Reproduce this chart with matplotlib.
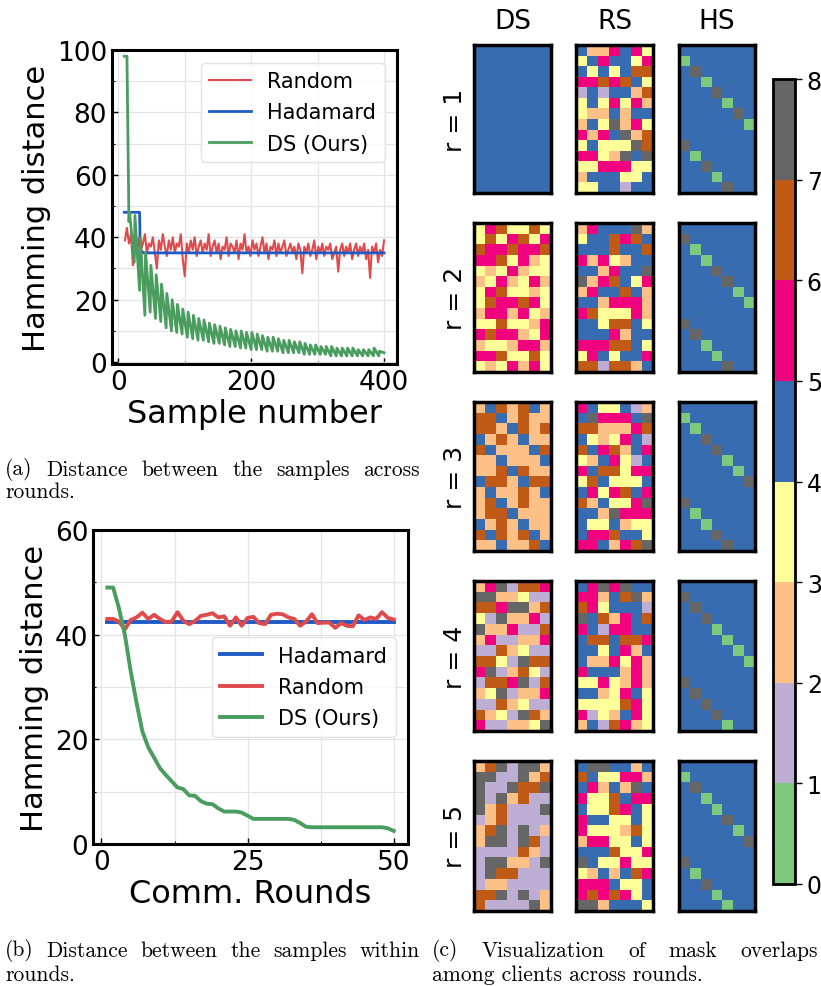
import numpy as np
import matplotlib
matplotlib.use("Agg")
import matplotlib.pyplot as plt
from matplotlib.colors import ListedColormap, BoundaryNorm
from matplotlib.cm import ScalarMappable
from matplotlib.ticker import MultipleLocator

# ---------------- data ----------------
# (a) distance between samples across rounds
rand_x = list(range(10, 401, 3))
rand_y = [39, 43, 38, 41, 31, 38, 34, 40, 36, 38,
          41, 35, 38, 37, 40, 35, 30, 39, 36, 41,
          37, 34, 39, 36, 40, 35, 38, 37, 41, 33,
          27.5, 38, 35, 39, 36, 40, 34, 37, 39, 35,
          38, 36, 41, 34, 37, 39, 35, 38, 33, 37,
          36, 40, 34, 38, 37, 35, 39, 33, 38, 36,
          41, 35, 37, 34, 39, 36, 38, 34, 37, 40,
          35, 38, 33, 37, 36, 39, 34, 38, 35, 37,
          39, 34, 36, 38, 35, 37, 33, 38, 36, 28.5,
          37, 35, 38, 34, 36, 39, 33, 37, 35, 38,
          34, 37, 36, 38, 33, 35, 37, 29, 36, 38,
          34, 37, 35, 38, 33, 36, 38, 34, 37, 35,
          38, 33, 36, 27, 37, 35, 38, 32, 36, 34,
          39]
had_x = [9, 32, 33, 38, 400]
had_y = [48, 48, 36, 35, 35]
ds_round_start = list(range(9, 400, 8))
ds_round_high = [98, 48, 47, 40, 35, 31, 28, 25, 22, 20, 18.5, 17, 16, 15, 14,
                 13.5, 12.5, 12, 11.5, 11, 10.5, 10, 10, 9.5, 9.5, 9, 8.5, 8, 8,
                 7.5, 7, 7, 6.5, 6.5, 6, 5.5, 5.5, 5, 5, 5, 4.5, 4.5, 4.5, 4.5,
                 4, 4, 4, 4.5, 3.5]
ds_round_low = [45, 32, 23, 15, 16, 14, 13, 11, 10, 9.5, 9, 8, 7.5, 7, 7, 6.5,
                6, 6, 5.5, 5, 5, 4.5, 4.5, 4, 4, 4, 3.5, 3.5, 3.5, 3, 3, 3, 3,
                2.5, 2.5, 2.5, 2.5, 2.5, 2, 2, 2, 2, 2, 2, 2, 2, 2, 2, 3]

# (b) distance between samples within rounds
rounds = list(range(1, 51))
had_b = [42.5] * 50
rand_b = [43, 43, 42.5, 41, 42.8, 43.3, 44.2, 43, 43.8, 43,
          42.4, 42.5, 44.3, 42.7, 42, 42.6, 43.6, 43.8, 44.1, 43.3,
          43.5, 41.7, 43.3, 41.7, 43.2, 43.4, 42.2, 42, 43.8, 44,
          43.9, 43.3, 43, 41.7, 42.5, 43.9, 42.2, 42.3, 42.3, 41.3,
          42.2, 41.7, 41.6, 43.7, 42.8, 43.3, 43, 44.3, 43.2, 42.9]
ds_b = [49, 49, 45, 40, 33, 27, 21.5, 18.5, 16.5, 14.5,
        13.2, 12, 10.8, 10.5, 9.3, 9.2, 8.2, 7.7, 7.6, 6.8,
        6.2, 6.2, 6.2, 6.0, 5.4, 4.8, 4.8, 4.8, 4.8, 4.8,
        4.8, 4.8, 4.6, 4.0, 3.3, 3.2, 3.2, 3.2, 3.2, 3.2,
        3.2, 3.2, 3.2, 3.2, 3.2, 3.2, 3.2, 3.2, 3.0, 2.5]

# (c) mask overlap grids (values 0..7)
ds_grids = [
    ["4444444"] * 14,
    ["3563363", "3635635", "6556556", "5563523", "3235233", "2352352", "3563323",
     "3655653", "2552532", "3363325", "5655235", "2332552", "5563363", "3235253"],
    ["2462642", "6642622", "6624626", "4262422", "6422246", "2242224", "2264622",
     "4662466", "2422624", "2642622", "2664222", "4262422", "6462642", "2242264"],
    ["2571665", "7722311", "6657726", "3172251", "7225116", "2511225", "1162311",
     "6631766", "5712631", "1665716", "2371225", "1162311", "6231762", "5112237"],
    ["2671772", "7711726", "7117667", "7172611", "7261117", "1261111", "2671712",
     "2771761", "1111621", "1772217", "1766111", "1221111", "6671712", "6111172"],
]
rs_grids = [
    ["4225453", "3454435", "4343466", "5565643", "1414426", "3435352", "3224244",
     "2437253", "5254726", "3433376", "5532747", "3355533", "2444334", "3344144"],
    ["2544472", "3446564", "4446446", "5253244", "4425447", "7256435", "2544642",
     "4425552", "5633352", "4436643", "4445244", "5556643", "3543445", "6616624"],
    ["5433412", "4755547", "6622256", "4323541", "6456245", "3245314", "5466355",
     "3643334", "4535645", "6243357", "4427555", "4334233", "4556443", "5542567"],
    ["4575744", "5524672", "6534441", "7462546", "5415544", "4664665", "4434524",
     "4225352", "5444252", "3353252", "4423543", "3333653", "5132453", "2416523"],
    ["4774424", "6433552", "4524274", "5336455", "4336543", "5443343", "5333263",
     "2553343", "4446335", "7433533", "3242465", "5554334", "5656534", "7724443"],
]
hs_grids = [
    ["4444444", "0444444", "4744444", "4404444", "4447444", "4444044", "4444474",
     "4444440", "4444444", "7444444", "4044444", "4474444", "4440444", "4444744"],
    ["4444444", "7444444", "4044444", "4404444", "4447444", "4444744", "4444404",
     "4444440", "4444444", "7444444", "4744444", "4404444", "4440444", "4444744"],
    ["4444444", "0444444", "4044444", "4474444", "4447444", "4444044", "4444404",
     "4444447", "4444444", "7444444", "4044444", "4404444", "4447444", "4444744"],
    ["4444444", "7444444", "4744444", "4474444", "4440444", "4444044", "4444404",
     "4444440", "4444444", "7444444", "4744444", "4474444", "4447444", "4444044"],
    ["4444444", "0444444", "4744444", "4404444", "4440444", "4444744", "4444404",
     "4444447", "4444444", "7444444", "4044444", "4474444", "4440444", "4444044"],
]
col_titles = ["DS", "RS", "HS"]
row_labels = ["r = 1", "r = 2", "r = 3", "r = 4", "r = 5"]
cbar_ticks = list(range(9))

# ---------------- style ----------------
RED = "#df4a4c"
BLUE = "#1f5bc6"
GREEN = "#4a9d5f"
accent = ['#7fc97f', '#beaed4', '#fdc086', '#ffff99',
          '#386cb0', '#f0027f', '#bf5b17', '#666666']
cmap = ListedColormap(accent)
norm = BoundaryNorm(list(range(9)), 8)

W, H = 821, 987
fig = plt.figure(figsize=(W / 100, H / 100), dpi=100)


def ax_px(x0, y0, x1, y1):
    return fig.add_axes([x0 / W, 1 - y1 / H, (x1 - x0) / W, (y1 - y0) / H])


def style_line_axes(ax):
    ax.set_axisbelow(True)
    ax.grid(True, which='both', color='#e4e4e4', lw=0.9)
    ax.tick_params(which='major', direction='in', labelsize=19, length=4, width=1)
    ax.tick_params(which='minor', direction='in', length=2.5, width=0.8)
    for s in ax.spines.values():
        s.set_linewidth(2.2)


# ---- (a)
ax1 = ax_px(112, 51, 397, 365)
ds_x, ds_y = [], []
for s, hi, lo in zip(ds_round_start, ds_round_high, ds_round_low):
    ds_x += [s, s + 7]
    ds_y += [hi, lo]
ds_x.insert(1, ds_round_start[0] + 4)
ds_y.insert(1, ds_round_high[0])
ax1.plot(rand_x, rand_y, color=RED, lw=1.5, label='Random')
ax1.plot(had_x, had_y, color=BLUE, lw=2.0, label='Hadamard')
ax1.plot(ds_x, ds_y, color=GREEN, lw=2.0, label='DS (Ours)')
ax1.set_xlim(-9.5, 419.5)
ax1.set_ylim(-0.6, 100)
ax1.set_xticks([0, 200, 400])
ax1.set_yticks([0, 20, 40, 60, 80, 100])
ax1.xaxis.set_minor_locator(MultipleLocator(100))
ax1.yaxis.set_minor_locator(MultipleLocator(10))
style_line_axes(ax1)
ax1.set_xlabel('Sample number', fontsize=23, labelpad=2)
ax1.set_ylabel('Hamming distance', fontsize=22, labelpad=4)
ax1.legend(loc='upper right', fontsize=15, framealpha=0.8, edgecolor='#dddddd',
           labelspacing=0.55, borderaxespad=0.6)

# ---- (b)
ax2 = ax_px(93, 531, 408, 845)
ax2.plot(rounds, had_b, color=BLUE, lw=2.8, label='Hadamard')
ax2.plot(rounds, rand_b, color=RED, lw=2.8, label='Random')
ax2.plot(rounds, ds_b, color=GREEN, lw=2.8, label='DS (Ours)')
ax2.set_xlim(-1.45, 52.45)
ax2.set_ylim(0, 60)
ax2.set_xticks([0, 25, 50])
ax2.set_yticks([0, 20, 40, 60])
ax2.xaxis.set_minor_locator(MultipleLocator(12.5))
ax2.yaxis.set_minor_locator(MultipleLocator(10))
style_line_axes(ax2)
ax2.set_xlabel('Comm. Rounds', fontsize=23, labelpad=2)
ax2.set_ylabel('Hamming distance', fontsize=22, labelpad=4)
ax2.legend(loc='center right', fontsize=15, framealpha=0.8, edgecolor='#dddddd',
           labelspacing=0.55, borderaxespad=0.6)

# ---- (c)
col_x = [(474, 551), (576, 653), (679, 755)]
row_y = [(46, 194), (224, 373), (403, 552), (582, 732), (762, 912)]
for i in range(5):
    for j, grids in enumerate([ds_grids, rs_grids, hs_grids]):
        arr = np.array([[int(c) for c in row] for row in grids[i]])
        ax = ax_px(col_x[j][0], row_y[i][0], col_x[j][1], row_y[i][1])
        ax.imshow(arr, cmap=cmap, norm=norm, aspect='auto', interpolation='nearest')
        ax.set_xticks([])
        ax.set_yticks([])
        for s in ax.spines.values():
            s.set_linewidth(2.5)
    yc = (row_y[i][0] + row_y[i][1]) / 2
    fig.text(455 / W, 1 - yc / H, row_labels[i], rotation=90, ha='center',
             va='center', fontsize=18)
for j, t in enumerate(col_titles):
    xc = (col_x[j][0] + col_x[j][1]) / 2
    fig.text(xc / W, 1 - 22 / H, t, ha='center', va='center', fontsize=19)

cax = ax_px(773, 80, 795, 885)
cb = fig.colorbar(ScalarMappable(norm=norm, cmap=cmap), cax=cax, ticks=cbar_ticks)
cb.outline.set_linewidth(2)
cax.tick_params(labelsize=17, length=5, width=1)

# ---- captions
CAP = 15.5


def justified(words, x0, x1, y):
    texts = [fig.text(0, 1 - y / H, w, fontsize=CAP, family='cmr10', va='center')
             for w in words]
    fig.canvas.draw()
    r = fig.canvas.get_renderer()
    widths = [t.get_window_extent(r).width for t in texts]
    gap = (x1 - x0 - sum(widths)) / (len(words) - 1)
    x = x0
    for t, w in zip(texts, widths):
        t.set_x(x / W)
        x += w + gap


def plain(s, x0, y):
    fig.text(x0 / W, 1 - y / H, s, fontsize=CAP, family='cmr10', va='center')


justified("(a) Distance between the samples across".split(), 5, 420, 470)
plain("rounds.", 5, 492)
justified("(b) Distance between the samples within".split(), 5, 420, 951)
plain("rounds.", 5, 975)
justified("(c) Visualization of mask overlaps".split(), 432, 818, 951)
plain("among clients across rounds.", 432, 975)

fig.savefig('out.png', dpi=100)
